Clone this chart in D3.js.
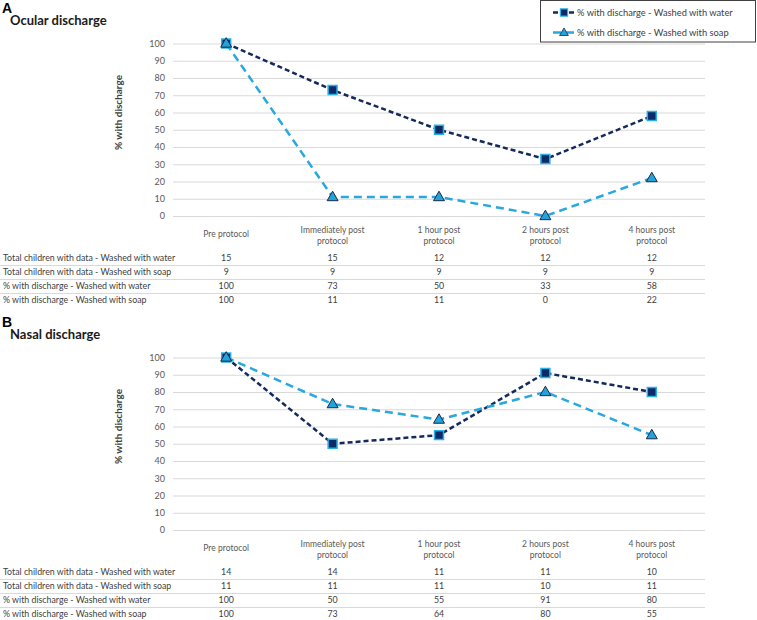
<!DOCTYPE html>
<html><head><meta charset="utf-8">
<script src="https://cdn.jsdelivr.net/npm/d3@7"></script>
<style>
html,body{margin:0;padding:0;background:#fff;}
svg{display:block;}
</style></head>
<body>
<svg id="chart" width="757" height="620"></svg>
<script>
const categories = [["Pre protocol"], ["Immediately post", "protocol"], ["1 hour post", "protocol"], ["2 hours post", "protocol"], ["4 hours post", "protocol"]];
const yTicks = [0, 10, 20, 30, 40, 50, 60, 70, 80, 90, 100];
const seriesNames = ["% with discharge - Washed with water", "% with discharge - Washed with soap"];
const rowLabels = ["Total children with data - Washed with water", "Total children with data - Washed with soap", "% with discharge - Washed with water", "% with discharge - Washed with soap"];

const ocularWater = [100, 73, 50, 33, 58];
const ocularSoap = [100, 11, 11, 0, 22];
const ocularTotalWater = [15, 15, 12, 12, 12];
const ocularTotalSoap = [9, 9, 9, 9, 9];

const nasalWater = [100, 50, 55, 91, 80];
const nasalSoap = [100, 73, 64, 80, 55];
const nasalTotalWater = [14, 14, 11, 11, 10];
const nasalTotalSoap = [11, 11, 11, 10, 11];

const panels = [
  {letter: "A", title: "Ocular discharge", water: ocularWater, soap: ocularSoap, totW: ocularTotalWater, totS: ocularTotalSoap, top: 43.5},
  {letter: "B", title: "Nasal discharge", water: nasalWater, soap: nasalSoap, totW: nasalTotalWater, totS: nasalTotalSoap, top: 357.5}
];

const navy = "#142a5c";
const light = "#28a8de";
const textCol = "#404040";
const axisCol = "#595959";
const gridCol = "#d9d9d9";
const font = "Lato, 'Open Sans', sans-serif";

const svg = d3.select("#chart");
const x = d3.scaleBand().domain(d3.range(categories.length)).range([173, 705]);
const cx = i => x(i) + x.bandwidth() / 2;

const sq = d3.symbol().type(d3.symbolSquare).size(80);
const tri = d3.symbol().type(d3.symbolTriangle).size(52);

function drawSeries(g, data, y, kind) {
  const line = d3.line().x((d, i) => cx(i)).y(d => y(d));
  g.append("path").datum(data).attr("d", line)
    .attr("fill", "none")
    .attr("stroke", kind === "water" ? navy : light)
    .attr("stroke-width", 2.5)
    .attr("stroke-dasharray", kind === "water" ? "5,3" : "8,5");
  g.selectAll(null).data(data).enter().append("path")
    .attr("d", kind === "water" ? sq : tri)
    .attr("transform", (d, i) => `translate(${cx(i)},${y(d) + (kind === "water" ? 0 : 0.5)})`)
    .attr("fill", kind === "water" ? "#0c2a66" : "#22a3da")
    .attr("stroke", kind === "water" ? "#2ab0e8" : "#1b2b48")
    .attr("stroke-width", kind === "water" ? 1.5 : 1);
}

panels.forEach(p => {
  const g = svg.append("g");
  const y = d3.scaleLinear().domain([0, 100]).range([p.top + 172.5, p.top]);
  const base = y(0);
  const t0 = p.top - 43.5;

  g.append("text").attr("x", 2).attr("y", t0 + 13).text(p.letter)
    .attr("font-family", "'Liberation Sans', Arial, sans-serif").attr("font-weight", "bold")
    .attr("font-size", 14).attr("fill", "#000");
  g.append("text").attr("x", 10).attr("y", t0 + 25).text(p.title)
    .attr("font-family", font).attr("font-weight", "bold")
    .attr("font-size", 13).attr("fill", "#1a1a1a");

  // gridlines
  const yAxis = d3.axisLeft(y).tickValues(yTicks).tickSize(-(705 - 173)).tickPadding(8);
  const ag = g.append("g").attr("transform", "translate(173,0)").call(yAxis);
  ag.select(".domain").remove();
  ag.selectAll(".tick line").attr("stroke", gridCol).attr("stroke-width", 1);
  ag.selectAll(".tick text").attr("font-family", font).attr("font-size", 9).attr("fill", axisCol);

  // y label
  g.append("text")
    .attr("transform", `translate(122,${p.top + 69}) rotate(-90)`)
    .attr("text-anchor", "middle")
    .attr("font-family", font).attr("font-weight", "bold").attr("font-size", 10).attr("fill", textCol)
    .text("% with discharge");

  // category labels
  categories.forEach((lines, i) => {
    const t = g.append("text").attr("text-anchor", "middle")
      .attr("font-family", font).attr("font-size", 8.5).attr("fill", axisCol);
    if (lines.length === 1) {
      t.append("tspan").attr("x", cx(i)).attr("y", base + 21).text(lines[0]);
    } else {
      lines.forEach((l, k) => t.append("tspan").attr("x", cx(i)).attr("y", base + 16.5 + k * 11).text(l));
    }
  });

  // table
  const rows = [p.totW, p.totS, p.water, p.soap];
  rows.forEach((r, ri) => {
    const ry = base + 42 + ri * 14;
    g.append("text").attr("x", 3).attr("y", ry + 3).text(rowLabels[ri])
      .attr("font-family", font).attr("font-size", 8.8).attr("fill", textCol);
    r.forEach((v, i) => {
      g.append("text").attr("x", cx(i)).attr("y", ry + 3).attr("text-anchor", "middle").text(v)
        .attr("font-family", font).attr("font-size", 8.8).attr("fill", textCol);
    });
    if (ri < rows.length - 1) {
      g.append("line").attr("x1", 0).attr("x2", 705).attr("y1", ry + 7.5).attr("y2", ry + 7.5)
        .attr("stroke", gridCol).attr("stroke-width", 1);
    }
  });

  drawSeries(g, p.water, y, "water");
  drawSeries(g, p.soap, y, "soap");
});

// legend
const lg = svg.append("g");
lg.append("rect").attr("x", 540.5).attr("y", 0.5).attr("width", 215).attr("height", 41.5)
  .attr("fill", "#fff").attr("stroke", "#404040").attr("stroke-width", 1);
[["water", 12.5], ["soap", 32.5]].forEach(([k, ly], idx) => {
  lg.append("line").attr("x1", 553).attr("x2", 575).attr("y1", ly).attr("y2", ly)
    .attr("stroke", k === "water" ? navy : light).attr("stroke-width", 2.5)
    .attr("stroke-dasharray", k === "water" ? "5,3" : "8,5");
  lg.append("path").attr("d", k === "water" ? sq : tri)
    .attr("transform", `translate(564,${ly + (k === "water" ? 0 : 0.5)}) scale(0.8)`)
    .attr("fill", k === "water" ? "#0c2a66" : "#22a3da")
    .attr("stroke", k === "water" ? "#2ab0e8" : "#1b2b48")
    .attr("stroke-width", k === "water" ? 1.5 : 1);
  lg.append("text").attr("x", 577).attr("y", ly + 3.5).text(seriesNames[idx])
    .attr("font-family", font).attr("font-size", 9.3).attr("fill", textCol);
});
</script>
</body></html>
